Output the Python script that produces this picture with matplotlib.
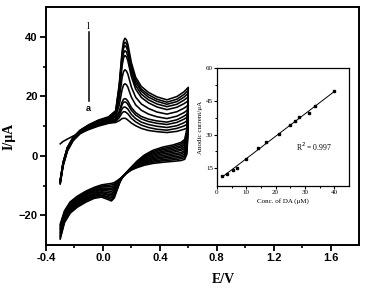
import matplotlib
matplotlib.use("Agg")
import matplotlib.pyplot as plt
import numpy as np

# ---------------- data ----------------
curve_names = ["a", "b", "c", "d", "e", "f", "g", "h", "i", "j", "k", "l"]

# forward (anodic) scan potentials, V
E_fwd = [-0.30, -0.28, -0.25, -0.21, -0.16, -0.10, -0.03, 0.04,
         0.09, 0.115, 0.135, 0.145, 0.155, 0.165, 0.175, 0.20, 0.23, 0.27, 0.32, 0.38, 0.45,
         0.52, 0.57, 0.60]
I_fwd = {
    "a": [4.0, 4.8, 5.6, 6.6, 7.6, 8.8, 10.0, 10.9, 11.2, 11.8, 12.5, 12.6, 12.6, 12.4, 12.0, 11.0, 10.1, 9.2, 8.5, 8.1, 7.8, 8.2, 8.9, 9.5],
    "b": [-9.5, -3.5, 1.5, 5.0, 7.4, 9.0, 10.2, 11.1, 11.6, 12.8, 14.4, 14.8, 14.8, 14.5, 14.1, 12.6, 11.4, 10.3, 9.5, 8.9, 8.6, 9.2, 10.0, 10.8],
    "c": [-9.3, -3.3, 1.7, 5.2, 7.6, 9.2, 10.4, 11.3, 11.9, 13.6, 15.8, 16.3, 16.4, 16.1, 15.7, 13.9, 12.5, 11.3, 10.5, 9.9, 9.5, 10.1, 11.1, 12.0],
    "d": [-9.1, -3.1, 1.9, 5.4, 7.8, 9.4, 10.6, 11.5, 12.2, 14.4, 17.2, 18.0, 18.1, 17.9, 17.3, 15.3, 13.7, 12.4, 11.5, 10.9, 10.5, 11.2, 12.3, 13.2],
    "e": [-9.0, -3.0, 2.0, 5.5, 7.9, 9.6, 10.8, 11.7, 12.4, 14.9, 18.1, 19.0, 19.2, 19.0, 18.4, 16.2, 14.5, 13.2, 12.3, 11.7, 11.3, 12.1, 13.3, 14.3],
    "f": [-8.8, -2.8, 2.2, 5.6, 8.0, 9.8, 11.0, 11.9, 13.0, 17.1, 22.3, 23.8, 24.2, 23.9, 23.1, 19.7, 17.1, 15.3, 14.0, 13.1, 12.5, 13.3, 14.5, 15.5],
    "g": [-8.7, -2.7, 2.3, 5.7, 8.1, 9.9, 11.3, 12.1, 13.5, 19.2, 26.3, 28.3, 28.9, 28.5, 27.5, 23.1, 19.7, 17.4, 15.9, 14.7, 14.0, 14.8, 16.0, 17.0],
    "h": [-8.6, -2.6, 2.4, 5.8, 8.2, 10.0, 11.5, 12.3, 14.0, 21.3, 30.3, 32.9, 33.7, 33.3, 32.0, 26.6, 22.4, 19.6, 17.8, 16.4, 15.5, 16.3, 17.5, 18.5],
    "i": [-8.5, -2.5, 2.5, 5.9, 8.3, 10.1, 11.7, 12.5, 14.3, 22.0, 31.7, 34.5, 35.3, 34.9, 33.5, 27.9, 23.6, 20.7, 18.8, 17.4, 16.5, 17.3, 18.7, 19.8],
    "j": [-8.4, -2.4, 2.6, 6.0, 8.4, 10.2, 11.8, 12.7, 14.6, 22.9, 33.1, 36.1, 37.0, 36.5, 35.2, 29.2, 24.6, 21.7, 19.7, 18.3, 17.3, 18.2, 19.7, 21.0],
    "k": [-8.3, -2.3, 2.7, 6.1, 8.5, 10.3, 11.9, 12.9, 14.9, 23.5, 34.2, 37.2, 38.2, 37.7, 36.3, 30.2, 25.5, 22.4, 20.5, 19.0, 18.0, 19.0, 20.6, 22.0],
    "l": [-8.2, -2.2, 2.8, 6.2, 8.6, 10.4, 12.0, 13.1, 15.2, 24.1, 35.2, 38.5, 39.5, 39.0, 37.6, 31.3, 26.4, 23.3, 21.3, 19.8, 18.8, 19.9, 21.5, 23.0],
}

# reverse (cathodic) scan potentials, V
E_rev = [0.59, 0.575, 0.55, 0.49, 0.42, 0.35, 0.29, 0.24, 0.20, 0.165, 0.14,
         0.12, 0.10, 0.08, 0.06, 0.03, -0.01, -0.06, -0.12, -0.18, -0.23, -0.27, -0.30]
I_rev = {
    "a": [0.5, -1.2, -1.6, -1.9, -2.2, -2.6, -3.2, -4.0, -4.8, -5.9, -7.0, -7.7, -8.4, -9.0, -9.3, -9.5, -9.8, -10.6, -11.9, -13.6, -15.5, -18.5, -23.0],
    "b": [1.3, -0.6, -1.0, -1.4, -1.7, -2.2, -2.9, -3.8, -4.7, -5.9, -7.0, -7.8, -8.7, -9.5, -9.8, -10.0, -10.2, -10.9, -12.2, -13.9, -15.8, -18.9, -23.5],
    "c": [2.0, 0.0, -0.5, -0.9, -1.3, -1.8, -2.6, -3.6, -4.6, -5.8, -7.0, -7.9, -9.0, -9.9, -10.4, -10.4, -10.5, -11.3, -12.6, -14.3, -16.2, -19.2, -23.9],
    "d": [2.8, 0.6, 0.0, -0.4, -0.8, -1.4, -2.3, -3.4, -4.5, -5.8, -7.0, -8.0, -9.2, -10.4, -10.9, -10.9, -10.9, -11.6, -12.9, -14.6, -16.5, -19.6, -24.4],
    "e": [3.6, 1.2, 0.6, 0.1, -0.4, -1.0, -2.0, -3.2, -4.4, -5.8, -7.0, -8.1, -9.5, -10.9, -11.4, -11.3, -11.3, -11.9, -13.2, -14.9, -16.9, -19.9, -24.8],
    "f": [4.3, 1.8, 1.1, 0.6, 0.1, -0.6, -1.7, -3.0, -4.3, -5.8, -7.0, -8.2, -9.8, -11.3, -12.0, -11.8, -11.6, -12.3, -13.6, -15.3, -17.2, -20.3, -25.3],
    "g": [5.2, 2.5, 1.8, 1.1, 0.6, -0.2, -1.3, -2.8, -4.3, -5.7, -7.0, -8.3, -10.1, -11.9, -12.6, -12.3, -12.1, -12.6, -13.9, -15.6, -17.6, -20.7, -25.8],
    "h": [5.9, 3.1, 2.3, 1.6, 1.1, 0.2, -1.0, -2.6, -4.2, -5.7, -7.0, -8.4, -10.4, -12.3, -13.1, -12.8, -12.4, -13.0, -14.3, -16.0, -17.9, -21.1, -26.2],
    "i": [6.7, 3.7, 2.9, 2.1, 1.5, 0.6, -0.7, -2.4, -4.1, -5.7, -7.0, -8.5, -10.7, -12.8, -13.6, -13.2, -12.8, -13.3, -14.6, -16.3, -18.3, -21.4, -26.7],
    "j": [7.5, 4.3, 3.4, 2.6, 2.0, 1.0, -0.4, -2.2, -4.0, -5.7, -7.0, -8.6, -10.9, -13.3, -14.1, -13.7, -13.2, -13.6, -14.9, -16.6, -18.6, -21.8, -27.1],
    "k": [8.2, 4.9, 4.0, 3.1, 2.4, 1.4, -0.1, -2.0, -3.9, -5.6, -7.0, -8.7, -11.2, -13.7, -14.7, -14.1, -13.5, -14.0, -15.3, -17.0, -19.0, -22.1, -27.6],
    "l": [9.0, 5.5, 4.5, 3.6, 2.9, 1.8, 0.2, -1.8, -3.8, -5.6, -7.0, -8.8, -11.5, -14.2, -15.2, -14.6, -13.9, -14.3, -15.6, -17.3, -19.3, -22.5, -28.0],
}

# inset: calibration
conc_DA = [1.6, 3.5, 5.6, 6.7, 9.9, 14.1, 16.7, 21.2, 24.9, 26.5, 28.1, 31.2, 33.4, 40.0]
anodic_current = [11.5, 12.5, 14.4, 15.3, 19.1, 24.0, 26.7, 30.2, 34.5, 36.0, 37.9, 39.8, 42.8, 49.5]
r2_text = "R$^2$ = 0.997"

main_xticks = [-0.4, 0.0, 0.4, 0.8, 1.2, 1.6]
main_yticks = [-20, 0, 20, 40]
inset_xticks = [0, 10, 20, 30, 40]
inset_yticks = [15, 30, 45, 60]

# ---------------- plot ----------------
W, H = 367, 290
fig = plt.figure(figsize=(W / 100, H / 100), dpi=100)
sans = "Liberation Sans"
serif = "Liberation Serif"

ax = fig.add_axes([46 / W, 1 - 245 / H, (359 - 46) / W, (245 - 7) / H])
for n in curve_names:
    E = list(E_fwd) + list(E_rev)
    I = list(I_fwd[n]) + list(I_rev[n])
    ax.plot(E, I, color="black", lw=1.15, solid_joinstyle="round")

ax.set_xlim(-0.4, 1.8)
ax.set_ylim(-30, 50)
ax.set_xticks(main_xticks)
ax.set_xticklabels(["-0.4", "0.0", "0.4", "0.8", "1.2", "1.6"])
ax.set_xticks(np.arange(-0.2, 1.8, 0.4), minor=True)
ax.set_yticks(main_yticks)
ax.set_yticks([-10, 10, 30], minor=True)
for sp in ax.spines.values():
    sp.set_linewidth(1.4)
ax.tick_params(which="major", direction="out", length=4, width=1.3,
               labelsize=8, pad=2)
ax.tick_params(which="minor", direction="out", length=2.5, width=1.2)
for lab in ax.get_xticklabels() + ax.get_yticklabels():
    lab.set_fontfamily(sans)
    lab.set_fontweight("bold")

ax.set_ylabel("I/μA", fontsize=10, fontweight="bold", family=serif)
ax.yaxis.set_label_coords(-0.098, 0.455)
ax.set_xlabel("E/V", fontsize=10, fontweight="bold", family=serif)
ax.xaxis.set_label_coords((223 - 46) / 313, -0.118)

# annotation line a -> l
ax.plot([-0.1, -0.1], [18.5, 41.5], color="black", lw=1.1)
ax.text(-0.1, 43.3, "l", ha="center", va="center", fontsize=7, family=serif)
ax.text(-0.1, 16.0, "a", ha="center", va="center", fontsize=6.5, family=sans, fontweight="bold")

# inset
axin = fig.add_axes([217 / W, 1 - 186 / H, (349 - 217) / W, (186 - 68) / H])
axin.plot(conc_DA, anodic_current, "s", color="black", ms=2.0)
coef = np.polyfit(conc_DA, anodic_current, 1)
xfit = np.array([min(conc_DA), max(conc_DA)])
axin.plot(xfit, np.polyval(coef, xfit), color="black", lw=0.7)
axin.set_xlim(0, 45)
axin.set_ylim(7, 60)
axin.set_xticks(inset_xticks)
axin.set_xticks([5, 15, 25, 35], minor=True)
axin.set_yticks(inset_yticks)
axin.set_yticks([22.5, 37.5, 52.5], minor=True)
for sp in axin.spines.values():
    sp.set_linewidth(0.9)
axin.tick_params(which="major", direction="out", length=2, width=0.8,
                 labelsize=5, pad=1)
axin.tick_params(which="minor", direction="out", length=1.2, width=0.7)
for lab in axin.get_xticklabels() + axin.get_yticklabels():
    lab.set_fontfamily(serif)
axin.set_xlabel("Conc. of DA (μM)", fontsize=5, family=serif, labelpad=2)
axin.set_ylabel("Anodic current/μA", fontsize=5, family=serif, labelpad=2)
axin.text(27.0, 24.5, r2_text, fontsize=5.5, family=serif, va="center", ha="left")

fig.savefig("out.png", dpi=100)
